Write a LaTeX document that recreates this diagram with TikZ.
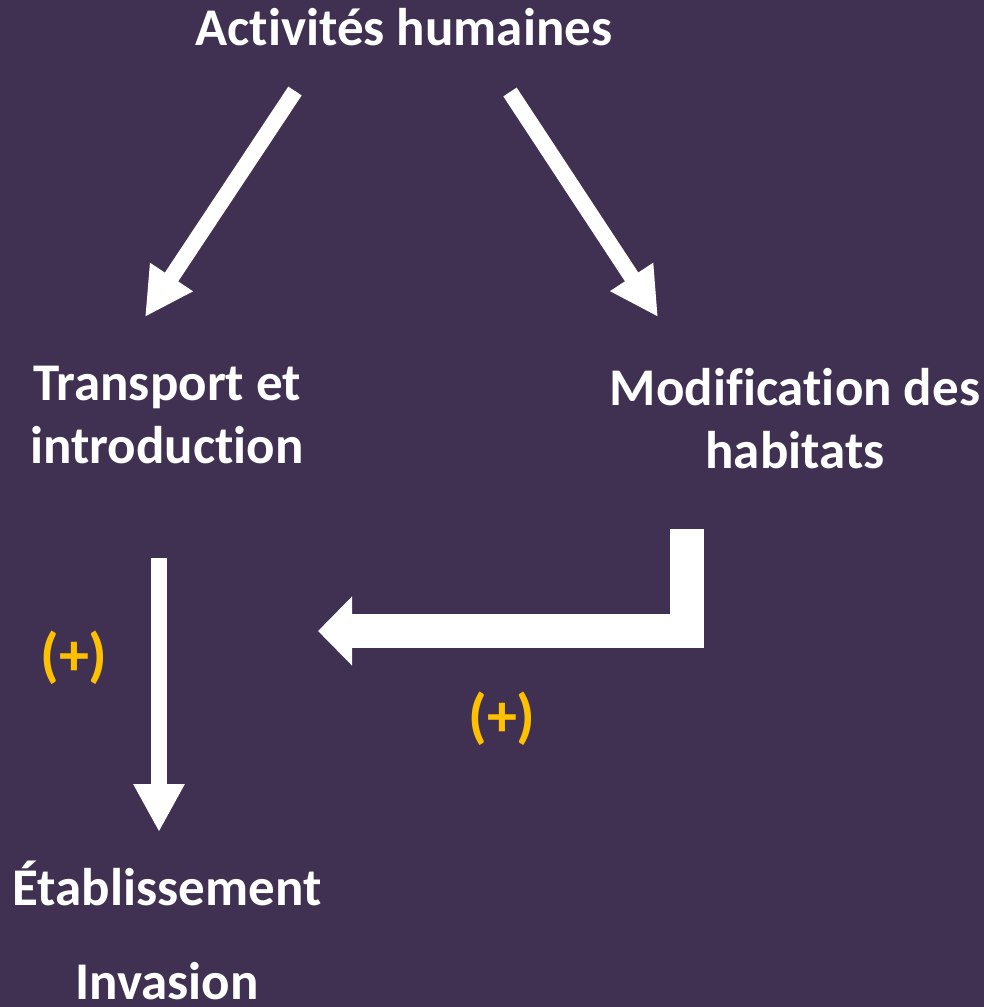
\documentclass[tikz,border=0pt]{standalone}
\usepackage{fontspec}
\setmainfont{Carlito}[Ligatures=NoCommon]
\usetikzlibrary{arrows.meta}
\definecolor{fond}{RGB}{64,49,82}
\definecolor{jaune}{RGB}{255,192,0}

\begin{document}
\begin{tikzpicture}[x=1pt,y=-1pt,
    txt/.style={text=white,font=\fontsize{53}{63}\selectfont\bfseries,align=center,inner sep=0pt,anchor=base},
    plus/.style={text=jaune,font=\fontsize{60}{70}\selectfont\bfseries,inner sep=0pt},
    fleche/.style={white,line width=16pt,-{Triangle[width=48pt,length=48pt]}}]
  \fill[fond](0,0)rectangle(984,1007);
  \useasboundingbox(0,0)rectangle(984,1007);
  % textes (base = ligne du bas)
  \node[txt] (act) at (404,45) {Activités humaines};
  \node[txt] (transp) at (167,463) {Transport et\\introduction};
  \node[txt] (modif) at (795,468) {Modification des\\habitats};
  \node[txt] (etab) at (167,905) {Établissement};
  \node[txt] (inv) at (167,999) {Invasion};
  \node[plus] (plusL) at (74,658) {(+)};
  \node[plus] (plusR) at (502,719) {(+)};
  % extremites des fleches
  \coordinate (act-l) at (295,91);
  \coordinate (transp-n) at (145,317);
  \coordinate (act-r) at (510,92);
  \coordinate (modif-n) at (658,317);
  \coordinate (transp-s) at (159,558);
  \coordinate (etab-n) at (159,832);
  \coordinate (modif-s) at (687,529);
  \coordinate (coude) at (687,631);
  \coordinate (cible) at (318,631);
  % fleches
  \draw[fleche](act-l)--(transp-n);
  \draw[fleche](act-r)--(modif-n);
  \draw[fleche](transp-s)--(etab-n);
  \draw[white,line width=34pt,line join=miter,-{Triangle[width=67pt,length=34pt]}]
    (modif-s)--(coude)--(cible);
\end{tikzpicture}
\end{document}
